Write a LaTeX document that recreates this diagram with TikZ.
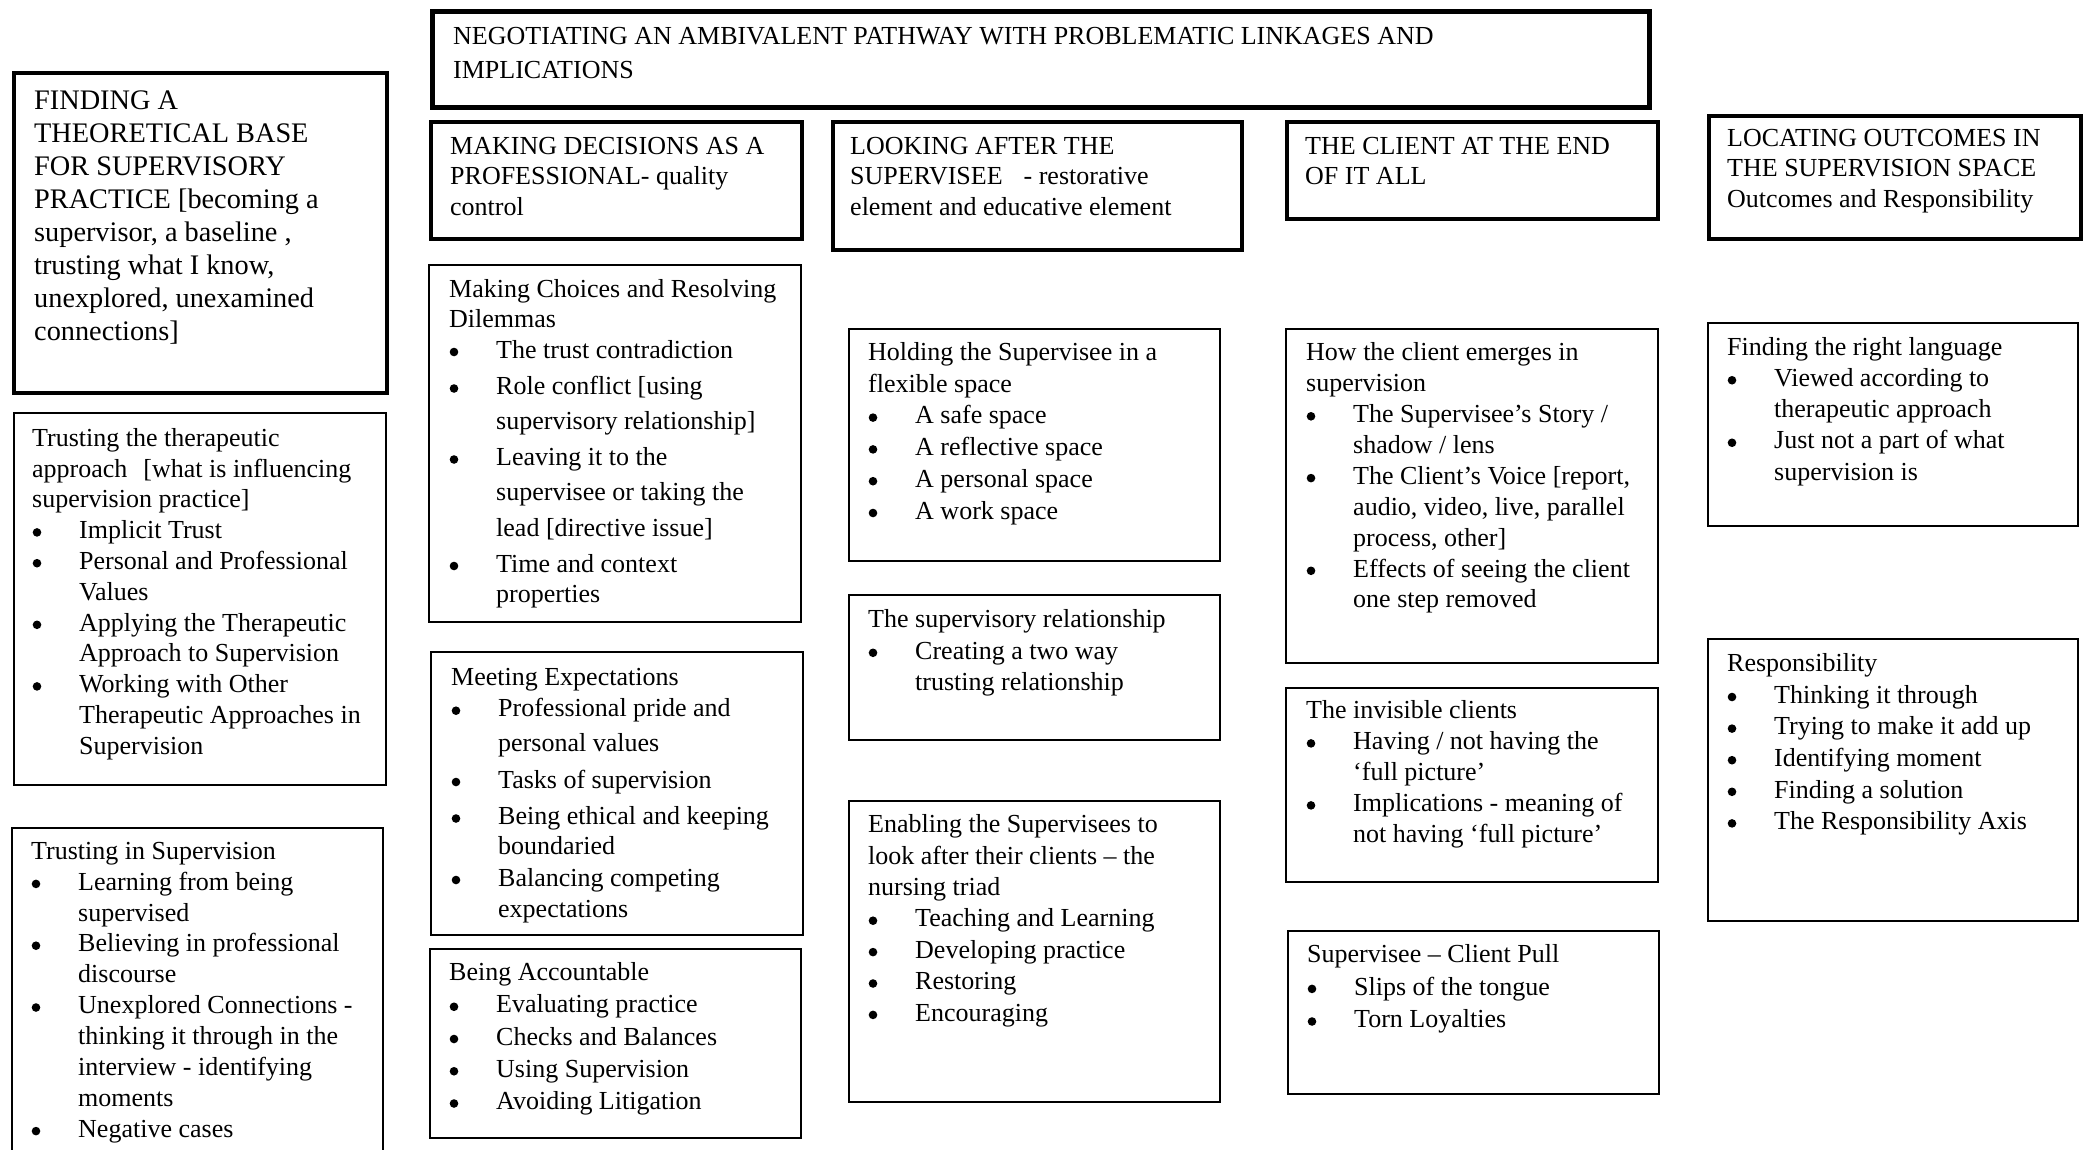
\documentclass[tikz,border=0pt]{standalone}
\usepackage{fontspec}
\setmainfont{Liberation Serif}
% invisible struts fixing the height of the first line of each text block
\newcommand\tp{\rule{0pt}{24pt}}
\newcommand\tpb{\rule{0pt}{26pt}}
% round bullet and hanging indent of list items
\newcommand\roundmark{\tikz[baseline=0pt]{\fill (4.4pt,6.2pt) circle[radius=4.3pt];}}
\newcommand\bu{\makebox[47pt][l]{\hspace{0.5pt}\roundmark}}
\newcommand\ct{\hspace*{47pt}}
\tikzset{
  panel/.style={draw=black, rectangle, inner sep=0pt, anchor=north west, line width=#1},
  heavy/.style={panel=5pt},
  headbox/.style={panel=3.6pt},
  itembox/.style={panel=1.8pt},
  body/.style={anchor=north west, inner sep=0pt, align=left, font=\fontsize{26pt}{#1}\selectfont},
}
\begin{document}
\begin{tikzpicture}[x=1pt, y=-1pt]
\useasboundingbox (0,0) rectangle (2086,1149);
\fill[white] (0,0) rectangle (2086,1149);
\clip (0,0) rectangle (2086,1149);

% ---- headline and category boxes ----
\node[heavy, minimum width=1217pt, minimum height=96pt] (path) at (429.5,8.5) {};
\node[body=34pt] (path-t) at (453,20) {\tp NEGOTIATING AN AMBIVALENT PATHWAY WITH PROBLEMATIC LINKAGES AND\\ IMPLICATIONS};

\node[headbox, minimum width=373pt, minimum height=320pt] (base) at (12,71) {};
\node[body=33.1pt, font=\fontsize{28.3pt}{33.1pt}\selectfont] (base-t) at (34,83) {\tpb FINDING A\\ THEORETICAL BASE\\ FOR SUPERVISORY\\ PRACTICE [becoming a\\ supervisor, a baseline ,\\ trusting what I know,\\ unexplored, unexamined\\ connections]};

\node[headbox, minimum width=371pt, minimum height=117pt] (decide) at (429,120) {};
\node[body=30.7pt] (decide-t) at (450,130) {\tp MAKING DECISIONS AS A\\ PROFESSIONAL- quality\\ control};

\node[headbox, minimum width=409pt, minimum height=128pt] (care) at (831,120) {};
\node[body=30.7pt] (care-t) at (850,130) {\tp LOOKING AFTER THE\\ SUPERVISEE\hspace{21pt}- restorative\\ element and educative element};

\node[headbox, minimum width=371pt, minimum height=97pt] (client) at (1285,120) {};
\node[body=30.7pt] (client-t) at (1305,130) {\tp THE CLIENT AT THE END\\ OF IT ALL};

\node[headbox, minimum width=372pt, minimum height=123pt] (outcome) at (1707,114) {};
\node[body=30.7pt] (outcome-t) at (1727,122) {\tp LOCATING OUTCOMES IN\\ THE SUPERVISION SPACE\\ Outcomes and Responsibility};

% ---- first column ----
\node[itembox, minimum width=372pt, minimum height=372pt] (approach) at (13,412) {};
\node[body=30.8pt] (approach-t) at (32,422) {\tp Trusting the therapeutic\\
approach\hspace{16pt}[what is influencing\\
supervision practice]\\
\bu Implicit Trust\\
\bu Personal and Professional\\
\ct Values\\
\bu Applying the Therapeutic\\
\ct Approach to Supervision\\
\bu Working with Other\\
\ct Therapeutic Approaches in\\
\ct Supervision};

\node[itembox, minimum width=371pt, minimum height=343pt] (trust) at (11,827) {};
\node[body=30.9pt] (trust-t) at (31,835) {\tp Trusting in Supervision\\
\bu Learning from being\\
\ct supervised\\
\bu Believing in professional\\
\ct discourse\\
\bu Unexplored Connections -\\
\ct thinking it through in the\\
\ct interview - identifying\\
\ct moments\\
\bu Negative cases};

% ---- second column ----
\node[itembox, minimum width=372pt, minimum height=357pt] (choices) at (428,264) {};
\node[body=30.5pt] (choices-t) at (449,273) {\tp Making Choices and Resolving\\[-0.5pt]
Dilemmas\\[0.5pt]
\bu The trust contradiction\\[6pt]
\bu Role conflict [using\\[4pt]
\ct supervisory relationship]\\[6pt]
\bu Leaving it to the\\[4.5pt]
\ct supervisee or taking the\\[5pt]
\ct lead [directive issue]\\[5.5pt]
\bu Time and context\\
\ct properties};

\node[itembox, minimum width=372pt, minimum height=283pt] (expect) at (430,651) {};
\node[body=31pt] (expect-t) at (451,661) {\tp Meeting Expectations\\[0.7pt]
\bu Professional pride and\\[3.3pt]
\ct personal values\\[6pt]
\bu Tasks of supervision\\[5.5pt]
\bu Being ethical and keeping\\[-1.5pt]
\ct boundaried\\[1pt]
\bu Balancing competing\\
\ct expectations};

\node[itembox, minimum width=371pt, minimum height=189pt] (account) at (429,948) {};
\node[body=32.25pt] (account-t) at (449,956.5) {\tp Being Accountable\\
\bu Evaluating practice\\
\bu Checks and Balances\\
\bu Using Supervision\\
\bu Avoiding Litigation};

% ---- third column ----
\node[itembox, minimum width=371pt, minimum height=232pt] (holding) at (848,328) {};
\node[body=31.8pt] (holding-t) at (868,336) {\tp Holding the Supervisee in a\\
flexible space\\
\bu A safe space\\
\bu A reflective space\\
\bu A personal space\\
\bu A work space};

\node[itembox, minimum width=371pt, minimum height=145pt] (relation) at (848,594) {};
\node[body=31.3pt] (relation-t) at (868,603.5) {\tp The supervisory relationship\\
\bu Creating a two way\\
\ct trusting relationship};

\node[itembox, minimum width=371pt, minimum height=301pt] (enable) at (848,800) {};
\node[body=31.4pt] (enable-t) at (868,808.5) {\tp Enabling the Supervisees to\\
look after their clients – the\\
nursing triad\\
\bu Teaching and Learning\\
\bu Developing practice\\
\bu Restoring\\
\bu Encouraging};

% ---- fourth column ----
\node[itembox, minimum width=372pt, minimum height=334pt] (emerge) at (1285,328) {};
\node[body=30.9pt] (emerge-t) at (1306,336.5) {\tp How the client emerges in\\
supervision\\
\bu The Supervisee’s Story /\\
\ct shadow / lens\\
\bu The Client’s Voice [report,\\
\ct audio, video, live, parallel\\
\ct process, other]\\
\bu Effects of seeing the client\\
\ct one step removed};

\node[itembox, minimum width=372pt, minimum height=194pt] (invisible) at (1285,687) {};
\node[body=31pt] (invisible-t) at (1306,694.4) {\tp The invisible clients\\
\bu Having / not having the\\
\ct ‘full picture’\\
\bu Implications - meaning of\\
\ct not having ‘full picture’};

\node[itembox, minimum width=371pt, minimum height=163pt] (pull) at (1287,930) {};
\node[body=32.6pt] (pull-t) at (1307,938.3) {\tp Supervisee – Client Pull\\
\bu Slips of the tongue\\
\bu Torn Loyalties};

% ---- fifth column ----
\node[itembox, minimum width=370pt, minimum height=203pt] (language) at (1707,322) {};
\node[body=31.25pt] (language-t) at (1727,331) {\tp Finding the right language\\
\bu Viewed according to\\
\ct therapeutic approach\\
\bu Just not a part of what\\
\ct supervision is};

\node[itembox, minimum width=370pt, minimum height=282pt] (respons) at (1707,638) {};
\node[body=31.6pt] (respons-t) at (1727,647.4) {\tp Responsibility\\
\bu Thinking it through\\
\bu Trying to make it add up\\
\bu Identifying moment\\
\bu Finding a solution\\
\bu The Responsibility Axis};
\end{tikzpicture}
\end{document}
